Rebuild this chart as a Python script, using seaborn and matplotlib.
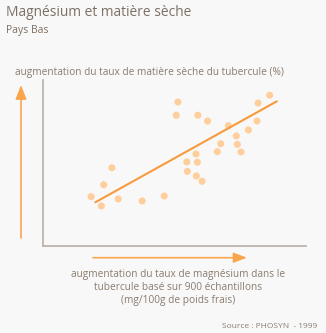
import matplotlib
matplotlib.use("Agg")
import matplotlib.pyplot as plt
import seaborn as sns
import pandas as pd

# Data (relative units)
mg_x = [18.4, 22.3, 23.2, 26.3, 28.7, 37.8, 46.2, 51.4, 50.8, 54.8, 55.0, 58.3, 58.8,
        58.4, 60.6, 59.0, 62.7, 66.4, 67.7, 70.6, 73.6, 74.0, 75.4, 78.2, 81.5, 81.9, 86.3]
ms_y = [29.5, 23.9, 36.7, 47.0, 28.1, 26.9, 29.9, 86.7, 78.7, 50.5, 44.8, 55.3, 50.3,
        42.0, 38.8, 78.7, 75.2, 56.7, 61.5, 72.4, 66.2, 61.1, 56.5, 69.8, 75.2, 86.1, 90.8]
trend_x = [20.0, 89.0]
trend_y = [26.1, 87.1]

title = "Magnésium et matière sèche"
subtitle = "Pays Bas"
ylabel = "augmentation du taux de matière sèche du tubercule (%)"
xlabel = "augmentation du taux de magnésium dans le\ntubercule basé sur 900 échantillons\n(mg/100g de poids frais)"
source = "Source : PHOSYN  - 1999"

sns.set_style("white")
plt.rcParams['font.family'] = ['Open Sans', 'DejaVu Sans']

W, H = 326, 333
bg = "#f8f8f8"
txt = "#8a7c6f"
fig = plt.figure(figsize=(W/100, H/100), dpi=100, facecolor=bg)
ax = fig.add_axes([42.7/W, 1-245.5/H, 263/W, 165.5/H])
ax.set_facecolor(bg)

df = pd.DataFrame({"x": mg_x, "y": ms_y})
sns.scatterplot(data=df, x="x", y="y", ax=ax, color="#fecf9c", s=26, edgecolor="none", zorder=2)
tdf = pd.DataFrame({"x": trend_x, "y": trend_y})
sns.lineplot(data=tdf, x="x", y="y", ax=ax, color="#f79a3c", linewidth=1.5, zorder=3)

ax.set_xlim(0, 100)
ax.set_ylim(0, 100)
ax.set_xticks([])
ax.set_yticks([])
ax.set_xlabel("")
ax.set_ylabel("")
for s in ["top", "right"]:
    ax.spines[s].set_visible(False)
for s in ["left", "bottom"]:
    ax.spines[s].set_color("#bdb5ad")
    ax.spines[s].set_linewidth(1.3)

def fx(px):
    return px / W
def fy(py):
    return 1 - py / H

fig.text(fx(6), fy(13), title, fontsize=9.9, color="#7d6f62", va="center", ha="left")
fig.text(fx(6), fy(31), subtitle, fontsize=7.5, color="#7d6f62", va="center", ha="left")
fig.text(fx(15), fy(73), ylabel, fontsize=7.3, color=txt, va="center", ha="left")
fig.text(fx(178), fy(287), xlabel, fontsize=7.3, color=txt, va="center", ha="center",
         linespacing=1.25)
fig.text(fx(317), fy(327), source, fontsize=6.0, color=txt, va="center", ha="right")

arrow_color = "#f9a54d"
ax.annotate("", xy=(fx(21), fy(85)), xytext=(fx(21), fy(238)),
            xycoords="figure fraction", textcoords="figure fraction",
            arrowprops=dict(arrowstyle="-|>,head_length=0.85,head_width=0.33",
                            color=arrow_color, lw=1.2, shrinkA=0, shrinkB=0))
ax.annotate("", xy=(fx(247), fy(257.7)), xytext=(fx(93), fy(257.7)),
            xycoords="figure fraction", textcoords="figure fraction",
            arrowprops=dict(arrowstyle="-|>,head_length=0.8,head_width=0.3",
                            color=arrow_color, lw=1.2, shrinkA=0, shrinkB=0))

fig.savefig("out.png", dpi=100, facecolor=bg)
